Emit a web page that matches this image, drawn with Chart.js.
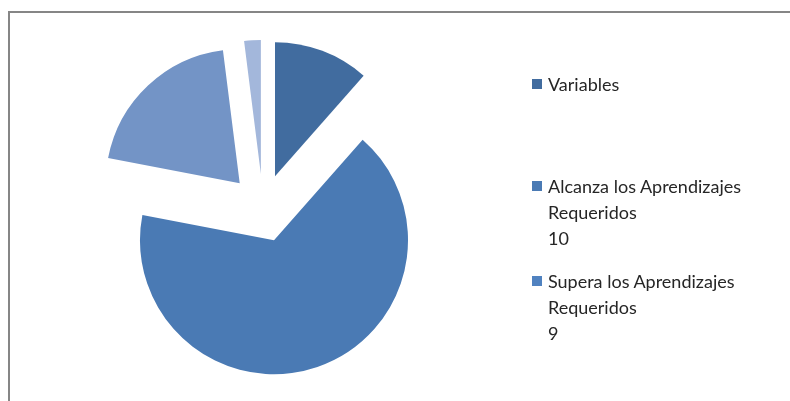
<!DOCTYPE html>
<html>
<head>
<meta charset="utf-8">
<script src="https://cdn.jsdelivr.net/npm/chart.js@4/dist/chart.umd.min.js"></script>
<style>
  html, body { margin: 0; padding: 0; background: #fff; }
  #wrap { position: relative; width: 790px; height: 401px; overflow: hidden; }
  #marco { position: absolute; left: 8px; top: 11px; width: 900px; height: 500px;
           border-left: 2px solid #868686; border-top: 2px solid #868686; }
  #myChart { position: absolute; left: 0; top: 0; }
  .item { position: absolute; left: 532px; font-family: Lato, sans-serif; font-size: 18px;
          line-height: 26px; color: #262626; white-space: nowrap; }
  .item .sw { position: absolute; left: 0; top: 8px; width: 10px; height: 10px; }
  .item .tx { margin-left: 16px; }
</style>
</head>
<body>
<div id="wrap">
  <div id="marco"></div>
  <canvas id="myChart" width="790" height="401"></canvas>
  <div id="leyenda"></div>
</div>
<script>
// datos del grafico (porcentajes)
const categorias = ['Variables', 'Alcanza los Aprendizajes Requeridos 10', 'Supera los Aprendizajes Requeridos 9', 'Otros'];
const valores = [11.5, 66.5, 20, 2];
// lineas de la leyenda (solo se ven 3 entradas)
const leyendaLineas = [
    ['Variables'],
    ['Alcanza los Aprendizajes', 'Requeridos', '10'],
    ['Supera los Aprendizajes', 'Requeridos', '9']
];

const colores = ['#416c9f', '#4a7ab4', '#7394c6', '#a3b7db'];
const coloresLeyenda = ['#416c9f', '#4a7ab4', '#5082c0'];
const leyendaTop = [71, 173, 268];
const EXPLOTA = 34; // px que se separa cada porcion

// el offset de chart.js agranda y recorta las porciones, asi que
// se dibujan los arcos de la libreria desplazados a mano
const explotar = {
    id: 'explotar',
    beforeDatasetDraw(chart, args) {
        const c = chart.ctx;
        args.meta.data.forEach(arc => {
            const mid = (arc.startAngle + arc.endAngle) / 2;
            c.save();
            c.translate(Math.cos(mid) * EXPLOTA, Math.sin(mid) * EXPLOTA);
            arc.draw(c);
            c.restore();
        });
        return false;
    }
};

chartIt();
function chartIt() {
    const ctx = document.getElementById('myChart');
    const grafico = new Chart(ctx.getContext('2d'), {
        type: 'pie',
        data: {
            labels: categorias,
            datasets: [{
                data: valores,
                backgroundColor: colores,
                borderWidth: 0,
                radius: 134,
                offset: 0,
                hoverOffset: 0
            }]
        },
        options: {
            responsive: false,
            animation: false,
            events: [],
            layout: { padding: { left: 0, right: 264, top: 15, bottom: 0 } },
            plugins: {
                legend: { display: false },
                tooltip: { enabled: false }
            }
        },
        plugins: [explotar]
    });

    const ley = document.getElementById('leyenda');
    leyendaLineas.forEach((lineas, i) => {
        const d = document.createElement('div');
        d.className = 'item';
        d.style.top = leyendaTop[i] + 'px';
        d.innerHTML = '<div class="sw" style="background:' + coloresLeyenda[i] + '"></div>' +
            '<div class="tx">' + lineas.join('<br>') + '</div>';
        ley.appendChild(d);
    });
}
</script>
</body>
</html>
